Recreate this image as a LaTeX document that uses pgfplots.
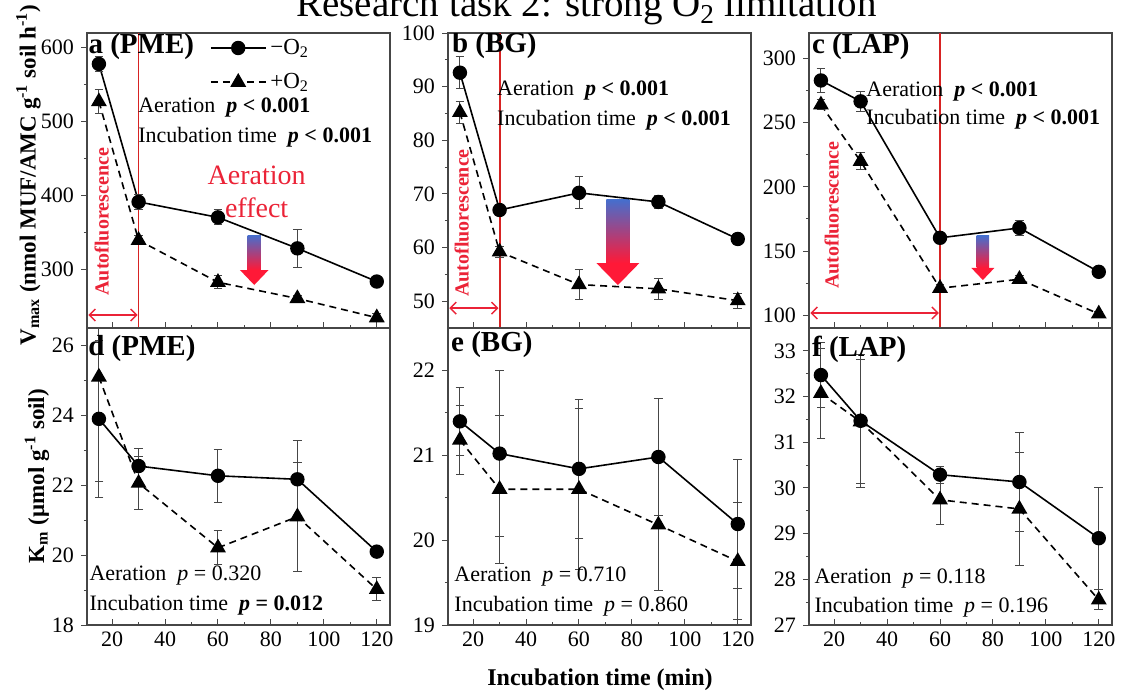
\documentclass[border=0pt]{standalone}
\usepackage{fontspec}
\setmainfont{Liberation Serif}
\usepackage{pgfplots}
\usepackage{pgfplotstable}
\pgfplotsset{compat=1.18}
\usetikzlibrary{arrows.meta}

\definecolor{redline}{RGB}{215,35,35}
\definecolor{redtext}{RGB}{235,35,55}
\definecolor{arrtop}{RGB}{70,110,205}
\definecolor{arrbot}{RGB}{255,25,55}
\definecolor{frame}{RGB}{70,70,70}

% t, mean/err without O2 (m, em), with O2 (p, ep)
\pgfplotstableread{
t   m     em    p     ep
15  578   10    527   16
30  391   10    339   6
60  370   10    282   9
90  328   26    260   4
120 283   4     234   5
}\tabA
\pgfplotstableread{
t   m     em    p     ep
15  92.6  3     85.2  2
30  67    1     59.2  1
60  70.2  3     53.1  2.8
90  68.5  1.2   52.3  2
120 61.6  1     50.1  1.4
}\tabB
\pgfplotstableread{
t   m     em    p     ep
15  283   9     264   4
30  266.7 7.8   220   6.5
60  160.3 2     121   3
90  168   5.8   128   3
120 133.8 2     101   2
}\tabC
\pgfplotstableread{
t   m     em    p     ep
15  23.9  2.25  25.1  3.0
30  22.55 0.5   22.06 0.75
60  22.27 0.75  20.21 0.49
90  22.17 1.1   21.1  1.56
120 20.1  0.15  19.02 0.33
}\tabD
\pgfplotstableread{
t   m     em    p     ep
15  21.4  0.4   21.18 0.41
30  21.02 0.98  20.6  0.87
60  20.84 0.82  20.6  0.95
90  20.98 0.69  20.18 0.77
120 20.19 0.76  19.75 0.69
}\tabE
\pgfplotstableread{
t   m     em    p     ep
15  32.47 0.71  32.07 0.99
30  31.47 1.46  31.45 1.36
60  30.29 0.19  29.74 0.55
90  30.13 1.09  29.54 1.23
120 28.9  1.12  27.55 0.22
}\tabF

\pgfplotsset{
  panel/.style={
    scale only axis, width=151.5pt, height=147.5pt, anchor=south west,
    xmin=10.5, xmax=125,
    xtick={20,40,...,120}, minor x tick num=1, minor y tick num=1,
    xtick pos=bottom, ytick pos=left,
    xtick align=inside, ytick align=outside,
    major tick length=3pt, minor tick length=1.6pt,
    axis line style={frame, line width=0.6pt},
    tick style={frame, line width=0.5pt},
    tick label style={font=\fontsize{11}{12}\selectfont},
    /pgf/number format/assume math mode=true,
  },
  errs/.style={
    error bars/y dir=both, error bars/y explicit,
    error bars/error bar style={frame, line width=0.5pt, solid},
    error bars/error mark options={rotate=90, frame, mark size=2.2pt, line width=0.5pt, solid},
  },
  minus/.style={black, line width=0.8pt, mark=*, mark size=3.2pt, mark options={solid}, errs},
  plus/.style={black, line width=0.8pt, dash pattern=on 3.5pt off 2.5pt, mark=triangle*, mark size=3.8pt, mark options={solid}, errs},
}

\newcommand{\anno}[3]{\node[anchor=west, inner sep=0pt, font=\fontsize{11}{12}\selectfont] at (rel axis cs:#1,#2) {#3};}
\newcommand{\plabel}[3]{\node[anchor=west, inner sep=0pt, font=\bfseries\fontsize{14.5}{16}\selectfont] at (rel axis cs:#1,#2) {#3};}
\newcommand{\autofl}[2]{\node[rotate=90, inner sep=0pt, text=redtext, font=\bfseries\fontsize{10}{12}\selectfont] at (axis cs:#1,#2) {Autofluorescence};}
% x centre, body half width, head half width, top, head start, tip
\newcommand{\gradarrow}[6]{%
  \shade[top color=arrtop, bottom color=arrbot] (axis cs:#1-#2,#4) rectangle (axis cs:#1+#2,#5);
  \fill[arrbot] (axis cs:#1-#3,#5) -- (axis cs:#1+#3,#5) -- (axis cs:#1,#6) -- cycle;}
\newcommand{\dblarrow}[2]{\draw[redtext, line width=0.7pt, {Straight Barb[length=3pt,width=6pt]}-{Straight Barb[length=3pt,width=6pt]}] (axis cs:11,#2) -- (axis cs:#1,#2);}

\begin{document}
\begin{tikzpicture}
\useasboundingbox (0,0) rectangle (561.5pt,348.5pt);

\node[anchor=base, font=\fontsize{19.5}{22}\selectfont] at (293.25pt,340pt) {Research task 2: strong O\textsubscript{2} limitation};
\node[rotate=90, font=\bfseries\fontsize{11.5}{13}\selectfont] at (14.25pt,261pt) {V\textsubscript{max} (nmol MUF/AMC g\textsuperscript{-1} soil h\textsuperscript{-1})};
\node[rotate=90, font=\bfseries\fontsize{11.5}{13}\selectfont] at (18.5pt,110.5pt) {K\textsubscript{m} (μmol g\textsuperscript{-1} soil)};
\node[font=\bfseries\fontsize{12}{14}\selectfont] at (300pt,8.5pt) {Incubation time (min)};

% ---- a (PME) ----
\begin{axis}[panel, at={(43.5pt,184.5pt)}, ymin=220, ymax=620, ytick={300,400,...,600}, xticklabels={},
  legend style={at={(0.405,0.995)}, anchor=north west, draw=none, fill=none, inner sep=0pt, row sep=4pt,
    font=\fontsize{11.5}{12}\selectfont, nodes={inner xsep=2pt}},
  legend cell align=left,
  legend image code/.code={\draw[mark repeat=2,mark phase=2,#1] plot coordinates {(0cm,0cm) (0.48cm,0cm) (0.96cm,0cm)};}]
\draw[redline, line width=0.7pt] (axis cs:30,220) -- (axis cs:30,620);
\dblarrow{29.6}{237.6}
\autofl{16.06}{364}
\gradarrow{73.7}{2.5}{5.4}{346}{298.6}{278.3}
\node[align=center, text=redtext, font=\fontsize{14}{16.5}\selectfont] at (axis cs:74.6,405) {Aeration\\effect};
\addplot[minus] table[x=t, y=m, y error=em] {\tabA};
\addlegendentry{\fontsize{11.5}{12}\selectfont −O\textsubscript{2}}
\addplot[plus] table[x=t, y=p, y error=ep] {\tabA};
\addlegendentry{\fontsize{11.5}{12}\selectfont +O\textsubscript{2}}
\plabel{0.004}{0.953}{a (PME)}
\anno{0.168}{0.746}{Aeration~~\textbf{\textit{p} < 0.001}}
\anno{0.168}{0.647}{Incubation time~~\textbf{\textit{p} < 0.001}}
\end{axis}

% ---- b (BG) ----
\begin{axis}[panel, at={(224pt,184.5pt)}, ymin=45, ymax=100, ytick={50,60,...,100}, xticklabels={}]
\draw[redline, line width=0.9pt] (axis cs:30.1,45) -- (axis cs:30.1,100);
\dblarrow{29.6}{48.7}
\autofl{15.7}{64.6}
\gradarrow{74.7}{4.35}{8.1}{68.9}{57.1}{53.0}
\addplot[minus] table[x=t, y=m, y error=em] {\tabB};
\addplot[plus] table[x=t, y=p, y error=ep] {\tabB};
\plabel{0.012}{0.959}{b (BG)}
\anno{0.161}{0.804}{Aeration~~\textbf{\textit{p} < 0.001}}
\anno{0.161}{0.703}{Incubation time~~\textbf{\textit{p} < 0.001}}
\end{axis}

% ---- c (LAP) ----
\begin{axis}[panel, at={(404.5pt,184.5pt)}, ymin=90, ymax=320, ytick={100,150,...,300}, xticklabels={}]
\draw[redline, line width=0.7pt] (axis cs:60,90) -- (axis cs:60,320);
\dblarrow{59.6}{101.7}
\autofl{19.1}{178}
\gradarrow{76.2}{2.4}{4.35}{161.9}{136.8}{127.4}
\addplot[minus] table[x=t, y=m, y error=em] {\tabC};
\addplot[plus] table[x=t, y=p, y error=ep] {\tabC};
\plabel{0.009}{0.953}{c (LAP)}
\anno{0.188}{0.803}{Aeration~~\textbf{\textit{p} < 0.001}}
\anno{0.188}{0.708}{Incubation time~~\textbf{\textit{p} < 0.001}}
\end{axis}

% ---- d (PME) ----
\begin{axis}[panel, height=148.5pt, at={(43.5pt,36pt)}, ymin=18, ymax=26.5, ytick={18,20,...,26}]
\addplot[minus] table[x=t, y=m, y error=em] {\tabD};
\addplot[plus] table[x=t, y=p, y error=ep] {\tabD};
\plabel{0.003}{0.932}{d (PME)}
\anno{0.007}{0.168}{Aeration~~\textit{p} = 0.320}
\anno{0.007}{0.067}{Incubation time~~\textbf{\textit{p} = 0.012}}
\end{axis}

% ---- e (BG) ----
\begin{axis}[panel, height=148.5pt, at={(224pt,36pt)}, ymin=19, ymax=22.5, ytick={19,20,21,22}]
\addplot[minus] table[x=t, y=m, y error=em] {\tabE};
\addplot[plus] table[x=t, y=p, y error=ep] {\tabE};
\plabel{0.009}{0.943}{e (BG)}
\anno{0.02}{0.162}{Aeration~~\textit{p} = 0.710}
\anno{0.02}{0.064}{Incubation time~~\textit{p} = 0.860}
\end{axis}

% ---- f (LAP) ----
\begin{axis}[panel, height=148.5pt, at={(404.5pt,36pt)}, ymin=27, ymax=33.5, ytick={27,28,...,33}]
\addplot[minus] table[x=t, y=m, y error=em] {\tabF};
\addplot[plus] table[x=t, y=p, y error=ep] {\tabF};
\plabel{0.009}{0.928}{f (LAP)}
\anno{0.017}{0.155}{Aeration~~\textit{p} = 0.118}
\anno{0.017}{0.061}{Incubation time~~\textit{p} = 0.196}
\end{axis}
\end{tikzpicture}
\end{document}
